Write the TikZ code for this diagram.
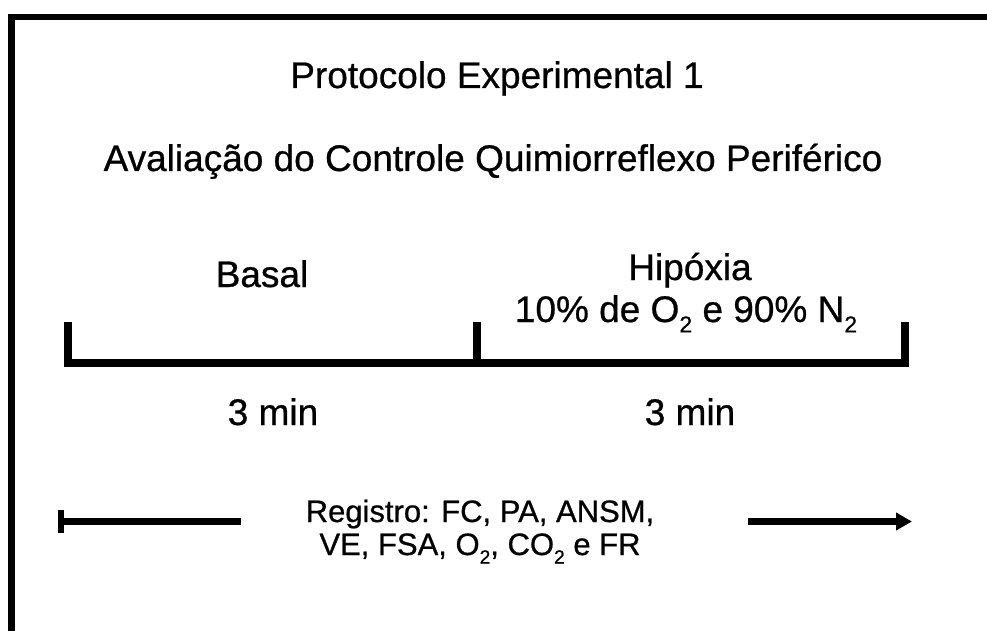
\documentclass[tikz,border=0pt]{standalone}
\usepackage{fontspec}
\setmainfont{Liberation Sans}[BoldFont=Liberation Sans, BoldFeatures={FakeBold=0.7}]
\usetikzlibrary{arrows.meta}
\tikzset{
  big/.style={font=\bfseries\fontsize{37}{42}\selectfont, inner sep=0pt, anchor=base},
  small/.style={font=\bfseries\fontsize{31}{36}\selectfont, inner sep=0pt, anchor=base},
  frame/.style={line width=6.5pt, line join=miter},
  bracket/.style={line width=8pt, line join=miter},
  arrowline/.style={line width=6.5pt}
}
\newcommand{\subtwo}{\raisebox{-0.28em}{\fontsize{0.62em}{0.7em}\selectfont 2}}
\begin{document}
\begin{tikzpicture}[x=1pt,y=-1pt]
\useasboundingbox (0,0) rectangle (987,631);
% frame
\draw[frame] (11.5,631) -- (11.5,17) -- (987,17);
% titles
\node[big] (title) at (497,88) {Protocolo Experimental 1};
\node[big] (sub) at (493,171) {Avaliação do Controle Quimiorreflexo Periférico};
% phase labels
\node[big] (basal) at (262,287) {Basal};
\node[big] (hip) at (690,280) {Hipóxia};
\node[big] (gas) at (686,322) {10\% de O\subtwo{} e 90\% N\subtwo};
% bracket
\coordinate (b1) at (68,322);
\coordinate (b2) at (68,363);
\coordinate (b3) at (905,363);
\coordinate (b4) at (905,322);
\coordinate (m1) at (477,322);
\coordinate (m2) at (477,363);
\draw[bracket] (b1) -- (b2) -- (b3) -- (b4);
\draw[bracket] (m1) -- (m2);
% durations
\node[big] (t1) at (273,425) {3 min};
\node[big] (t2) at (690,425) {3 min};
% recording
\node[small] (reg1) at (480,522) {Registro: FC, PA, ANSM,};
\node[small] (reg2) at (480,555) {VE, FSA, O\subtwo, CO\subtwo{} e FR};
\coordinate (a1) at (58,521.5);
\coordinate (a2) at (241,521.5);
\coordinate (a3) at (748,521.5);
\coordinate (a4) at (912,521.5);
\draw[arrowline, {Bar[width=23pt,line width=6pt]}-] (a1) -- (a2);
\draw[arrowline, -{Triangle[length=16pt,width=17pt]}] (a3) -- (a4);
\end{tikzpicture}
\end{document}
